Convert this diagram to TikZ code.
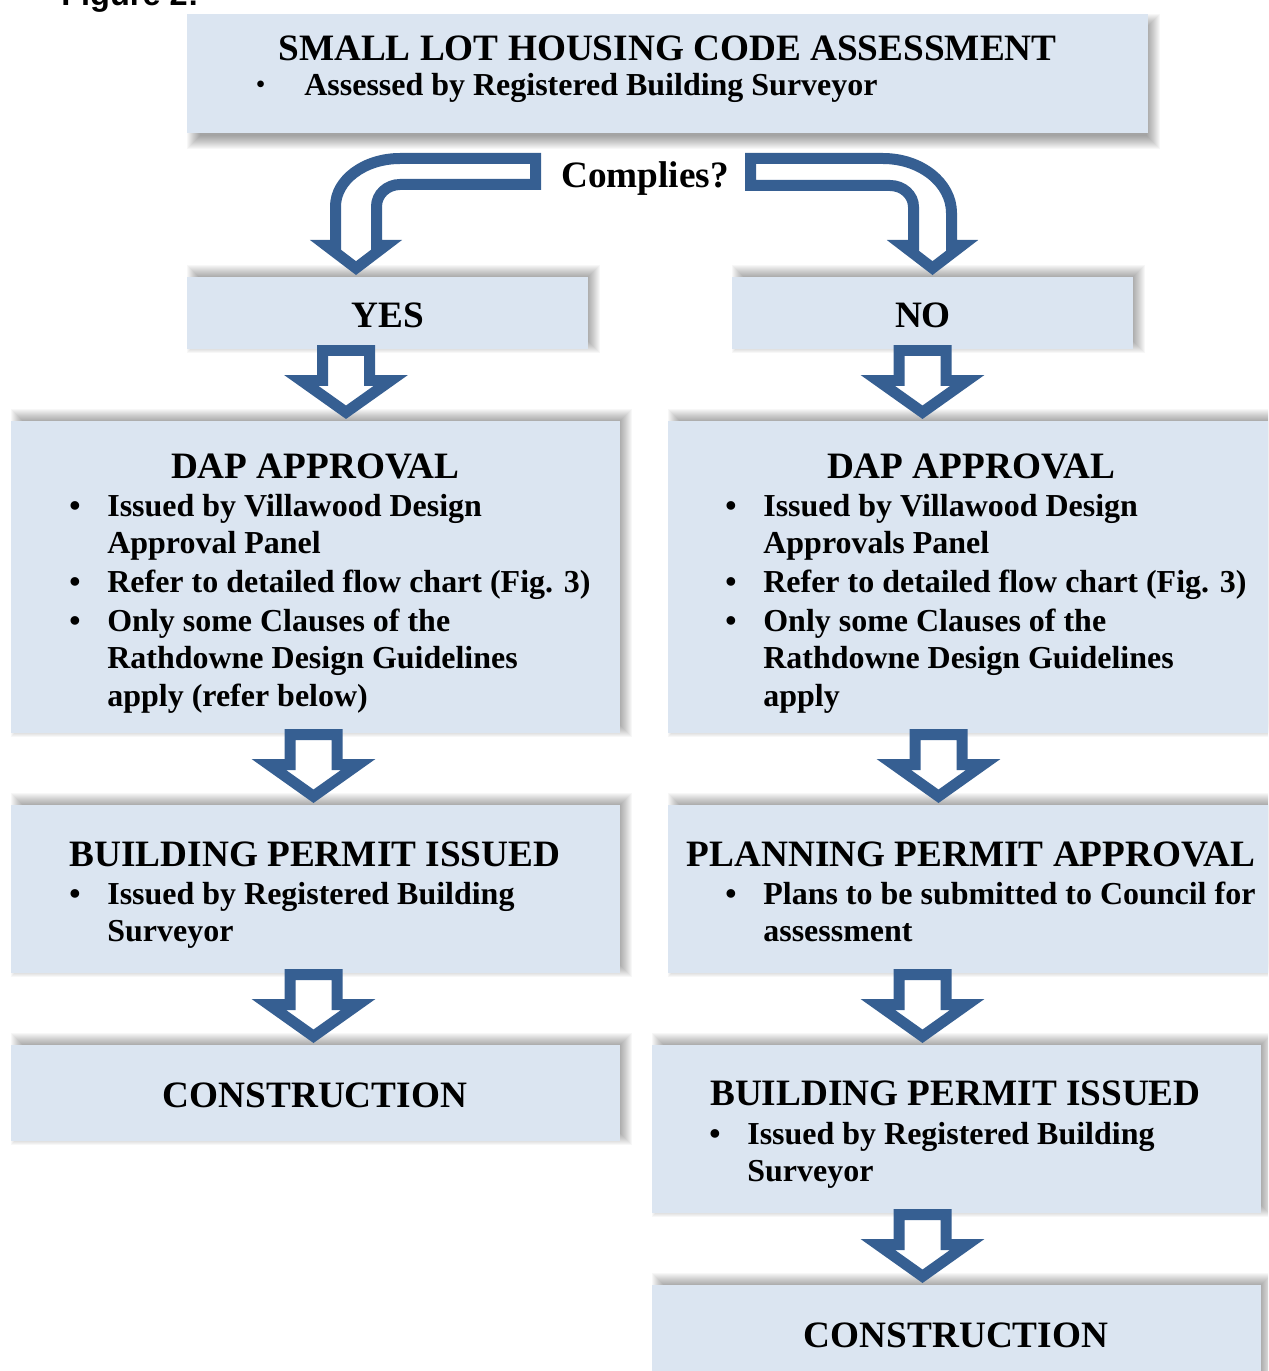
\documentclass[tikz,border=0pt]{standalone}
\usepackage{fontspec}
\setmainfont{Liberation Serif}
\newfontfamily\figfont{Liberation Sans}
\definecolor{boxblue}{HTML}{DBE5F1}
\definecolor{arrowblue}{HTML}{365F92}
% #1 name, #2 x1, #3 y1, #4 x2, #5 y2, #6 vertical shift of the shadow core
\newcommand\shadedbox[6]{%
  \foreach \k in {1,...,14}{%
    \fill[black,opacity=0.032] ({#2+14-\k},{#3+#6-\k}) rectangle ({#4-2+\k},{#5+#6-12+\k});
  }
  \node[boxst, anchor=north west, minimum width={(#4-#2)*0.02cm}, minimum height={(#5-#3)*0.02cm}] (#1) at (#2,#3) {};
}
\begin{document}
\begin{tikzpicture}[x=0.02cm,y=-0.02cm,
  boxst/.style={fill=boxblue, draw=none, inner sep=0, rectangle},
  arrowst/.style={draw=arrowblue, fill=white, line width=0.22cm, line join=miter},
  hd/.style={font=\fontsize{21.2}{25}\selectfont\bfseries, inner sep=0, anchor=base},
  bt/.style={font=\fontsize{18.2}{22}\selectfont\bfseries, inner sep=0, anchor=base west},
  bul/.style={font=\fontsize{18.2}{22}\selectfont\bfseries, inner sep=0, anchor=base west},
  pics/darrow/.style={code={%
    \draw[arrowst] (-23.5,5.5) -- (23.5,5.5) -- (23.5,35.5) -- (44.7,35.5) -- (0,67.25) -- (-44.7,35.5) -- (-23.5,35.5) -- cycle;}}
]
\useasboundingbox (0,0) rectangle (1268,1371);
\clip (0,0) rectangle (1268,1371);

% caption (cut off at top, as in the reference)
\node[font=\figfont\fontsize{18.5}{20}\selectfont\bfseries, anchor=base west, inner sep=0] (fig) at (61,6) {Figure 2:};

% boxes
\shadedbox{top}{187}{14}{1148}{133}{14}
\shadedbox{yes}{187}{277}{588}{349}{2}
\shadedbox{no}{732}{277}{1133}{349}{2}
\shadedbox{dapL}{11}{421}{620}{733}{2}
\shadedbox{dapR}{668}{421}{1280}{733}{2}
\shadedbox{bpL}{11}{805}{620}{973}{2}
\shadedbox{ppR}{668}{805}{1280}{973}{2}
\shadedbox{conL}{11}{1045}{620}{1141}{2}
\shadedbox{bpR}{652}{1045}{1261}{1213}{2}
\shadedbox{conR}{652}{1285}{1261}{1390}{2}

% bent arrows
\draw[arrowst] (535.5,158.5) -- (400,158.5) .. controls (364.4,158.5) and (335.5,180) .. (335.5,206.5)
  -- (335.5,245.5) -- (326.3,245.5) -- (356,268.1) -- (385.7,245.5) -- (376.5,245.5) -- (376.5,206.5)
  .. controls (376.5,194.4) and (387,184.5) .. (400,184.5) -- (535.5,184.5) -- cycle;
\draw[arrowst] (750.5,158.5) -- (883,158.5) .. controls (920.8,158.5) and (951.5,182.9) .. (951.5,213)
  -- (951.5,245.5) -- (962,245.5) -- (932.5,268.1) -- (903,245.5) -- (913.5,245.5) -- (913.5,207)
  .. controls (913.5,195.1) and (903,185.5) .. (890,185.5) -- (750.5,185.5) -- cycle;

% down arrows
\pic (a1) at (346,345) {darrow};
\pic (a2) at (922.5,345) {darrow};
\pic (a3) at (313.5,729) {darrow};
\pic (a4) at (938.5,729) {darrow};
\pic (a5) at (313.5,969) {darrow};
\pic (a6) at (922.5,969) {darrow};
\pic (a7) at (922.5,1209) {darrow};

% top box text
\node[hd] (t1) at (667.5,61) {SMALL LOT HOUSING CODE ASSESSMENT};
\node[font=\fontsize{14}{17}\selectfont\bfseries, inner sep=0, anchor=base west] (t2b) at (256,93) {•};
\node[bt] (t2) at (304,96) {Assessed by Registered Building Surveyor};
\node[hd, anchor=base west] (cq) at (561,188) {Complies?};
\node[hd] (ty) at (387.5,328) {YES};
\node[hd] (tn) at (923,328) {NO};

% DAP left
\node[hd] (dl0) at (315,478) {DAP APPROVAL};
\node[bul] (dlb1) at (69,516) {•};
\node[bt] (dl1) at (107,516) {Issued by Villawood Design};
\node[bt] (dl2) at (107,553) {Approval Panel};
\node[bul] (dlb2) at (69,592) {•};
\node[bt] (dl3) at (107,592) {Refer to detailed flow chart (Fig. 3)};
\node[bul] (dlb3) at (69,631) {•};
\node[bt] (dl4) at (107,631) {Only some Clauses of the};
\node[bt] (dl5) at (107,668) {Rathdowne Design Guidelines};
\node[bt] (dl6) at (107,706) {apply (refer below)};

% DAP right
\node[hd] (dr0) at (971,478) {DAP APPROVAL};
\node[bul] (drb1) at (725,516) {•};
\node[bt] (dr1) at (763,516) {Issued by Villawood Design};
\node[bt] (dr2) at (763,553) {Approvals Panel};
\node[bul] (drb2) at (725,592) {•};
\node[bt] (dr3) at (763,592) {Refer to detailed flow chart (Fig. 3)};
\node[bul] (drb3) at (725,631) {•};
\node[bt] (dr4) at (763,631) {Only some Clauses of the};
\node[bt] (dr5) at (763,668) {Rathdowne Design Guidelines};
\node[bt] (dr6) at (763,706) {apply};

% Building permit left
\node[hd] (bl0) at (315,866) {BUILDING PERMIT ISSUED};
\node[bul] (blb1) at (69,904) {•};
\node[bt] (bl1) at (107,904) {Issued by Registered Building};
\node[bt] (bl2) at (107,941) {Surveyor};

% Planning permit right
\node[hd] (pr0) at (971,866) {PLANNING PERMIT APPROVAL};
\node[bul] (prb1) at (725,904) {•};
\node[bt] (pr1) at (763,904) {Plans to be submitted to Council for};
\node[bt] (pr2) at (763,941) {assessment};

% Construction left
\node[hd] (cl0) at (315,1107) {CONSTRUCTION};

% Building permit right
\node[hd] (br0) at (955.5,1105) {BUILDING PERMIT ISSUED};
\node[bul] (brb1) at (709,1144) {•};
\node[bt] (br1) at (747,1144) {Issued by Registered Building};
\node[bt] (br2) at (747,1181) {Surveyor};

% Construction right
\node[hd] (cr0) at (956,1347) {CONSTRUCTION};
\end{tikzpicture}
\end{document}
